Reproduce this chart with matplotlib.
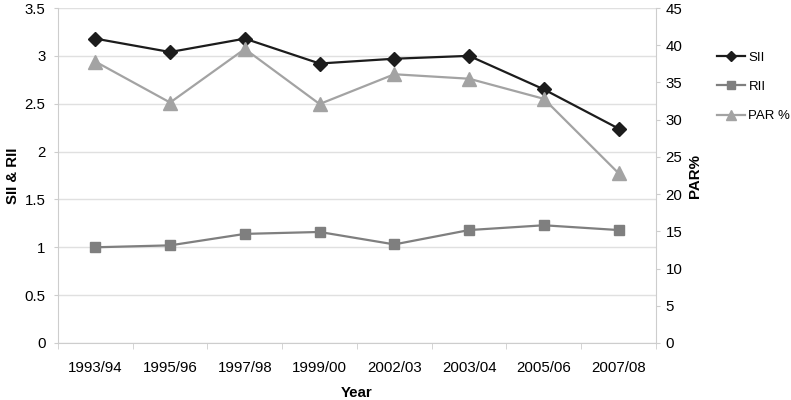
import matplotlib
matplotlib.use("Agg")
import matplotlib.pyplot as plt
from matplotlib.lines import Line2D

plt.rcParams['font.family'] = ['Liberation Sans', 'DejaVu Sans']

years = ["1993/94", "1995/96", "1997/98", "1999/00", "2002/03", "2003/04", "2005/06", "2007/08"]
sii = [3.18, 3.04, 3.18, 2.92, 2.97, 3.00, 2.65, 2.24]
rii = [1.00, 1.02, 1.14, 1.16, 1.03, 1.18, 1.23, 1.18]
par = [37.8, 32.3, 39.5, 32.1, 36.1, 35.5, 32.8, 22.8]
left_ticks = [0, 0.5, 1, 1.5, 2, 2.5, 3, 3.5]
left_labels = ["0", "0.5", "1", "1.5", "2", "2.5", "3", "3.5"]
right_ticks = [0, 5, 10, 15, 20, 25, 30, 35, 40, 45]

c_sii = "#1c1c1c"
c_rii = "#7f7f7f"
c_par = "#a3a3a3"
grid_c = "#e0e0e0"
axis_c = "#cdcdcd"
fs = 10.8

fig = plt.figure(figsize=(7.91, 4.0), dpi=100)
ax = fig.add_axes([0.0733, 0.1425, 0.756, 0.8375])
ax2 = ax.twinx()

x = list(range(len(years)))
ax.plot(x, sii, color=c_sii, lw=1.6, marker="D", ms=7, zorder=4)
ax.plot(x, rii, color=c_rii, lw=1.6, marker="s", ms=7.5, zorder=3)
ax2.plot(x, par, color=c_par, lw=1.6, marker="^", ms=9.5, zorder=3)

ax.set_xlim(-0.5, len(years) - 0.5)
ax.set_ylim(0, 3.5)
ax2.set_ylim(0, 45)
ax.set_yticks(left_ticks)
ax.set_yticklabels(left_labels)
ax2.set_yticks(right_ticks)
ax.yaxis.grid(True, color=grid_c, lw=1)
ax.set_axisbelow(True)

ax.set_xticks(x)
ax.set_xticklabels(years)
ax.set_xticks([i - 0.5 for i in range(len(years) + 1)], minor=True)
ax.tick_params(axis="x", which="major", length=0, labelsize=fs, pad=13)
ax.tick_params(axis="x", which="minor", length=4, color=axis_c, direction="out")
ax.tick_params(axis="y", length=3, color=axis_c, labelsize=fs, pad=6)
ax2.tick_params(axis="y", length=3, color=axis_c, labelsize=fs, pad=4)

for a in (ax, ax2):
    for s in a.spines.values():
        s.set_color(axis_c)
    a.spines["top"].set_visible(False)
ax2.spines["left"].set_visible(False)
ax2.spines["bottom"].set_visible(False)
ax.spines["right"].set_visible(False)

ax.set_xlabel("Year", fontweight="bold", fontsize=fs, labelpad=8)
ax.set_ylabel("SII & RII", fontweight="bold", fontsize=fs, labelpad=3)
ax2.set_ylabel("PAR%", fontweight="bold", fontsize=fs, labelpad=4)

handles = [
    Line2D([], [], color=c_sii, lw=1.6, marker="D", ms=5),
    Line2D([], [], color=c_rii, lw=1.6, marker="s", ms=5.5),
    Line2D([], [], color=c_par, lw=1.6, marker="^", ms=6.5),
]
fig.legend(handles, ["SII", "RII", "PAR %"], loc="center left",
           bbox_to_anchor=(0.907, 0.783), frameon=False, fontsize=9.5,
           handlelength=2.1, labelspacing=1.3, handletextpad=0.25,
           borderpad=0, borderaxespad=0)

fig.savefig("out.png", dpi=100)
